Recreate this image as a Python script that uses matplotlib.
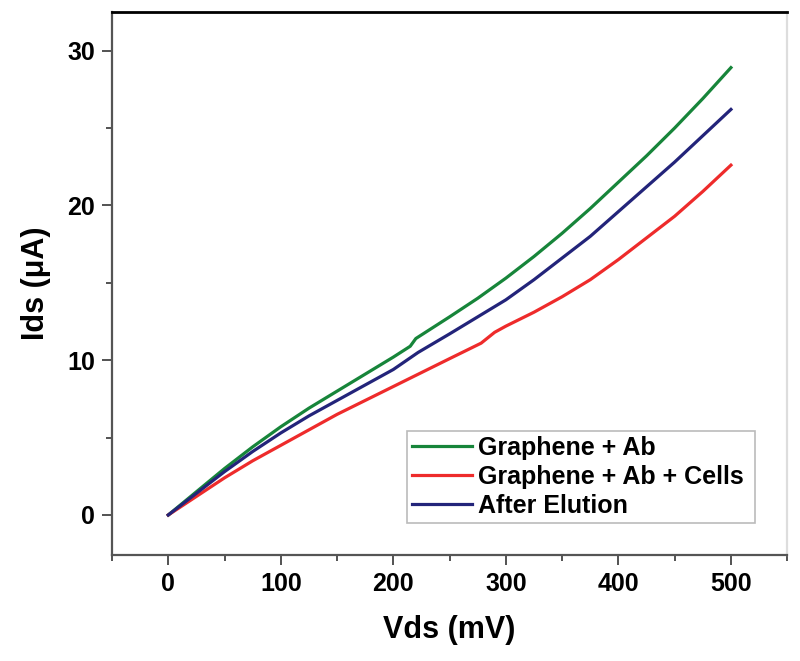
import matplotlib
matplotlib.use('Agg')
import matplotlib.pyplot as plt
from matplotlib.ticker import MultipleLocator

plt.rcParams['font.family'] = ['Liberation Sans', 'DejaVu Sans']

# Vds (mV) / Ids (uA)
vds_ab = [0, 25, 50, 75, 100, 125, 150, 175, 200, 215, 220, 250, 275, 300,
          325, 350, 375, 400, 425, 450, 475, 500]
ids_ab = [0, 1.5, 3.0, 4.4, 5.7, 6.9, 8.0, 9.1, 10.2, 10.9, 11.4, 12.8, 14.0, 15.3,
          16.7, 18.2, 19.8, 21.5, 23.2, 25.0, 26.9, 28.9]

vds_cells = [0, 25, 50, 75, 100, 125, 150, 175, 200, 225, 250, 278, 290, 300,
             325, 350, 375, 400, 425, 450, 475, 500]
ids_cells = [0, 1.2, 2.4, 3.5, 4.5, 5.5, 6.5, 7.4, 8.3, 9.2, 10.1, 11.1, 11.8, 12.2,
             13.1, 14.1, 15.2, 16.5, 17.9, 19.3, 20.9, 22.6]

vds_elu = [0, 25, 50, 75, 100, 125, 150, 175, 200, 212, 222, 250, 275, 300,
           325, 350, 375, 400, 425, 450, 475, 500]
ids_elu = [0, 1.4, 2.8, 4.1, 5.3, 6.4, 7.4, 8.4, 9.4, 10.0, 10.5, 11.7, 12.8, 13.9,
           15.2, 16.6, 18.0, 19.6, 21.2, 22.8, 24.5, 26.2]

fig = plt.figure(figsize=(8, 6.61), dpi=100)
ax = fig.add_axes([0.14, 0.160, 0.844, 0.822])

ax.plot(vds_ab, ids_ab, color='#17853a', lw=2.3, label='Graphene + Ab')
ax.plot(vds_cells, ids_cells, color='#ee2b2b', lw=2.3, label='Graphene + Ab + Cells')
ax.plot(vds_elu, ids_elu, color='#23247a', lw=2.3, label='After Elution')

ax.set_xlim(-50, 550)
ax.set_ylim(-2.6, 32.5)
ax.xaxis.set_major_locator(MultipleLocator(100))
ax.xaxis.set_minor_locator(MultipleLocator(50))
ax.yaxis.set_major_locator(MultipleLocator(10))
ax.yaxis.set_minor_locator(MultipleLocator(5))

ax.tick_params(which='both', direction='out', top=False, right=False,
               color='#444444', width=1.3)
ax.tick_params(which='major', length=7, labelsize=18, pad=5)
ax.tick_params(which='minor', length=4)
for lab in ax.get_xticklabels() + ax.get_yticklabels():
    lab.set_fontweight('bold')

for side in ['left', 'bottom']:
    ax.spines[side].set_color('#555555')
    ax.spines[side].set_linewidth(1.6)
ax.spines['top'].set_color('black')
ax.spines['top'].set_linewidth(2)
ax.spines['right'].set_color('#dddddd')
ax.spines['right'].set_linewidth(1.6)

ax.set_xlabel('Vds (mV)', fontsize=22, fontweight='bold', labelpad=14)
ax.set_ylabel('Ids (\u03bcA)', fontsize=22, fontweight='bold', labelpad=12)

leg = ax.legend(loc='lower left', bbox_to_anchor=(0.437, 0.059, 0.516, 0.18),
                mode='expand', prop={'weight': 'bold', 'size': 18},
                frameon=True, fancybox=False, edgecolor='#aaaaaa',
                borderpad=0.2, labelspacing=0.2, handlelength=2.4,
                handletextpad=0.25, borderaxespad=0)
leg.get_frame().set_linewidth(1.2)

fig.savefig('out.png', dpi=100)
